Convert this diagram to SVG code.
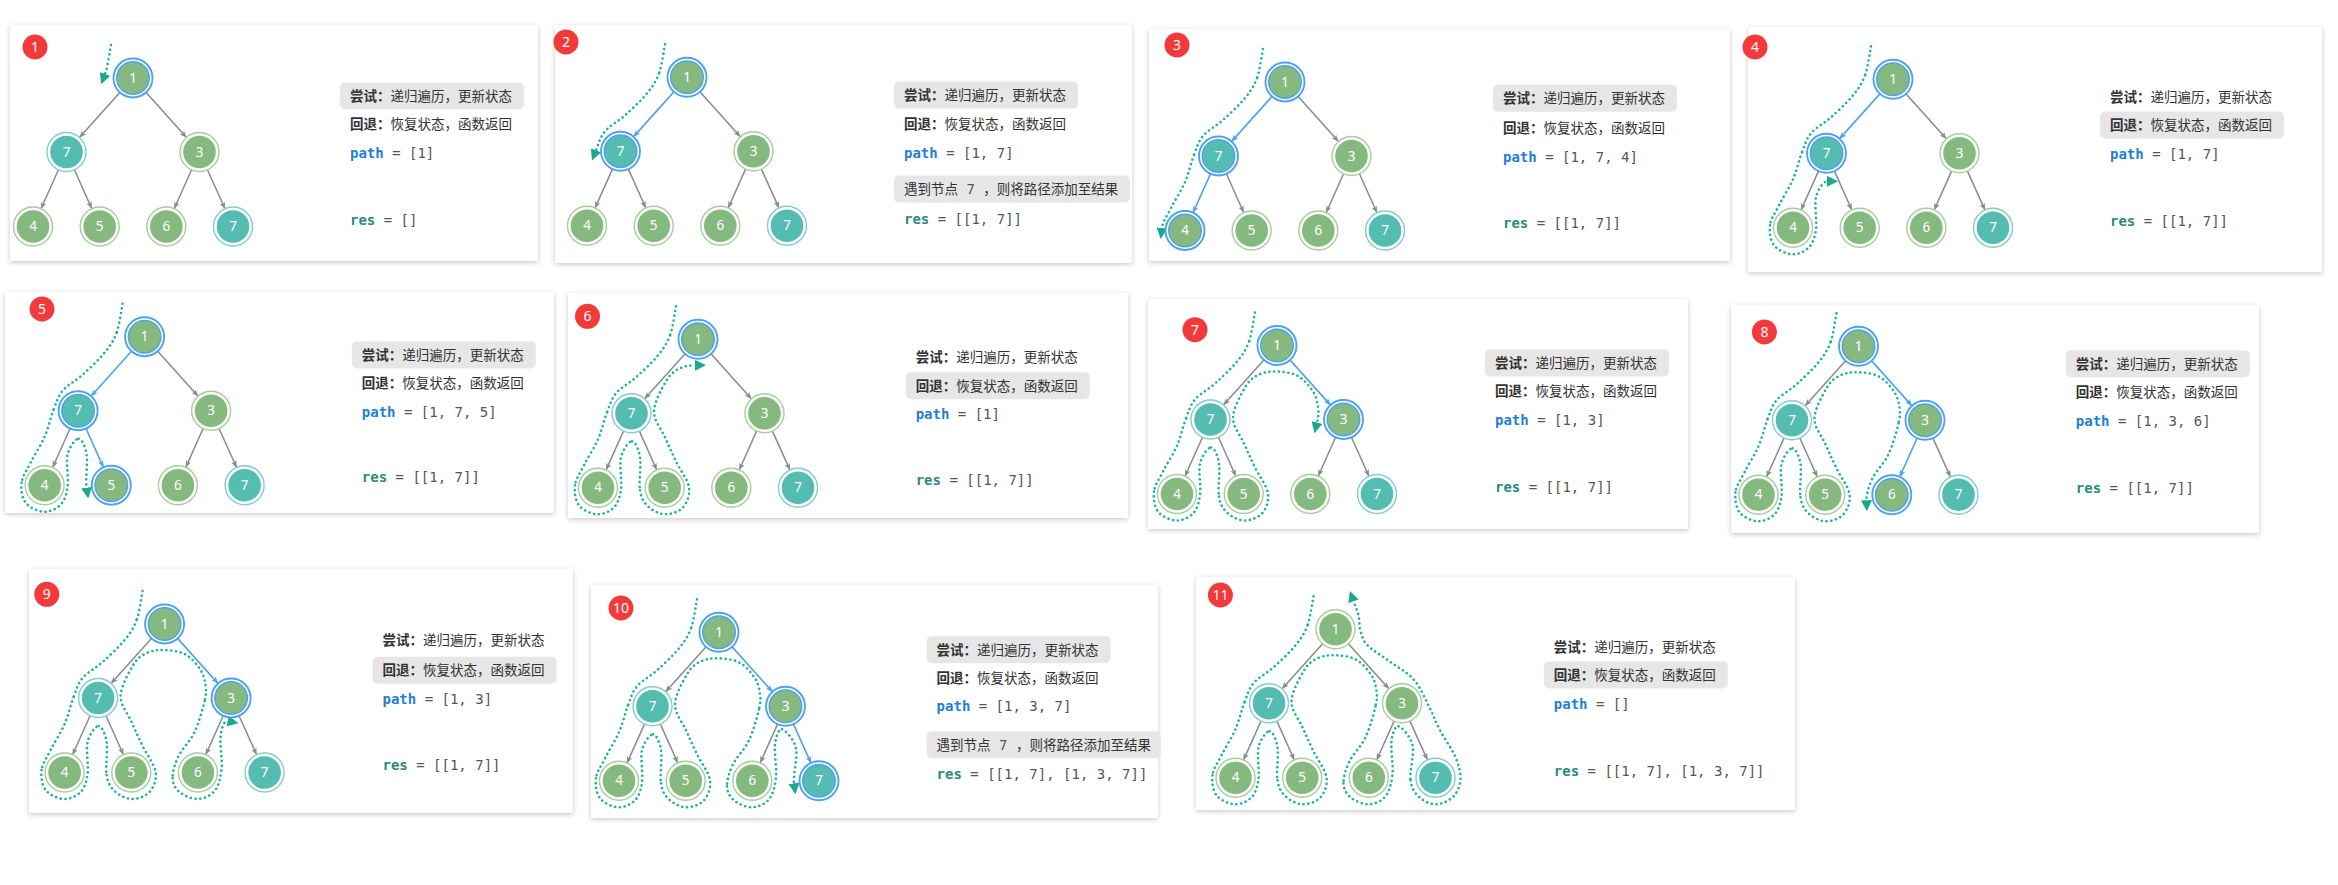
<svg xmlns="http://www.w3.org/2000/svg" xmlns:xlink="http://www.w3.org/1999/xlink" width="2338" height="885" viewBox="0 0 2338 885">
<style>
.pn{fill:#fff;filter:url(#sh)}
.bd{fill:#F23A3A}
.bt{fill:#fff;font-family:"Noto Sans","Liberation Sans",sans-serif;font-size:14px;text-anchor:middle}
.rg{fill:#fff;stroke:#A3D09A;stroke-width:1.4}
.rt{fill:#fff;stroke:#82CEC4;stroke-width:1.4}
.rb{fill:#fff;stroke:#4DA3EE;stroke-width:1.9}
.fg{fill:#86B97F}
.ft{fill:#54BCB0}
.hb{stroke:#4DA3EE;stroke-width:1.4}
.nv{fill:#fff;font-family:"Noto Sans","Liberation Sans",sans-serif;font-size:13.5px;text-anchor:middle}
.eg{stroke:#8A8A8A;stroke-width:1.5;marker-end:url(#mg)}
.ebl{stroke:#4DA3EE;stroke-width:1.6;marker-end:url(#mb)}
.tour{fill:none;stroke:#1DB39A;stroke-width:2.6;stroke-dasharray:0.1 4.7;stroke-linecap:round}
.tend{marker-end:url(#mt)}
.bx{fill:#E6E6E6}
.cn{font-family:"Noto Sans CJK SC","Noto Sans",sans-serif;font-size:13.5px;fill:#333}
.b{font-weight:bold}
.mo{font-family:"DejaVu Sans Mono","Liberation Mono",monospace;font-size:14px;fill:#555}
.kp{fill:#1D7FD6;font-weight:bold}
.kr{fill:#2A8C7B;font-weight:bold}
</style>
<defs>
<filter id="sh" x="-3%" y="-4%" width="106%" height="110%"><feDropShadow dx="0" dy="1.5" stdDeviation="2.5" flood-color="#000" flood-opacity="0.22"/></filter>
<marker id="mg" viewBox="0 0 10 10" refX="9" refY="5" markerWidth="7" markerHeight="7" markerUnits="userSpaceOnUse" orient="auto"><path d="M0,1 L10,5 L0,9 L2.5,5 z" fill="#8A8A8A"/></marker>
<marker id="mb" viewBox="0 0 10 10" refX="9" refY="5" markerWidth="7" markerHeight="7" markerUnits="userSpaceOnUse" orient="auto"><path d="M0,1 L10,5 L0,9 L2.5,5 z" fill="#4DA3EE"/></marker>
<marker id="mt" viewBox="0 0 10 10" refX="0" refY="5" markerWidth="11" markerHeight="11" markerUnits="userSpaceOnUse" orient="auto"><path d="M0,0 L10,5 L0,10 z" fill="#1AA98F"/></marker>
<line id="e1" x1="-12.7" y1="14.1" x2="-53.1" y2="59.1"/>
<line id="e2" x1="12.7" y1="14.1" x2="53.1" y2="59.1"/>
<line id="e3" x1="-74.3" y1="91.3" x2="-91.8" y2="130.3"/>
<line id="e4" x1="-58.8" y1="91.3" x2="-41.4" y2="130.2"/>
<line id="e5" x1="58.8" y1="91.3" x2="41.4" y2="130.2"/>
<line id="e6" x1="74.2" y1="91.3" x2="91.8" y2="130.3"/>
<g id="ng"><circle r="19.5" class="rg"/><circle r="16.3" class="fg"/></g>
<g id="nt"><circle r="19.5" class="rt"/><circle r="16.3" class="ft"/></g>
<g id="ngb"><circle r="19.5" class="rb"/><circle r="16.3" class="fg hb"/></g>
<g id="ntb"><circle r="19.5" class="rb"/><circle r="16.3" class="ft hb"/></g>
<path id="tA" d="M-22,-33 C-23,-28.2 -25,-12.2 -28,-4"/>
<path id="tB" d="M-28,-4 C-31,4.2 -34.3,9 -40,16 C-45.7,23 -55,31.7 -62,38 C-69,44.3 -77.2,48.2 -82,54 C-86.8,59.8 -88,65.3 -91,73"/>
<path id="tC" d="M-91,73 C-94,80.7 -96.2,91.2 -100,100 C-103.8,108.8 -110.2,118.3 -114,126 C-117.8,133.7 -122.2,139.3 -123,146"/>
<path id="tD" d="M-123,146 C-123.8,152.7 -122.7,161.2 -119,166 C-115.3,170.8 -106.8,174.7 -101,175 C-95.2,175.3 -88,172.2 -84,168 C-80,163.8 -78.2,158.3 -77,150 C-75.8,141.7 -78.8,126 -77,118 C-75.2,110 -69.2,102 -66,102"/>
<path id="tE" d="M-66,102 C-62.8,102 -59.3,109.8 -58,118 C-56.7,126.2 -59.3,142.8 -58,151"/>
<path id="tF" d="M-58,151 C-56.7,159.2 -54.2,163 -50,167 C-45.8,171 -38.8,174.8 -33,175 C-27.2,175.2 -19,172.5 -15,168 C-11,163.5 -7.8,155.7 -9,148 C-10.2,140.3 -18,130.3 -22,122 C-26,113.7 -29.3,106.3 -33,98 C-36.7,89.7 -44.2,81.3 -44,72 C-43.8,62.7 -36,49 -32,42 C-28,35 -24.8,32.7 -20,30 C-15.2,27.3 -9.7,26 -3,26"/>
<path id="tG" d="M-3,26 C3.7,26 13.5,26.7 20,30 C26.5,33.3 32.5,40.7 36,46 C39.5,51.3 40.3,56.8 41,62 C41.7,67.2 41.8,69.3 40,77"/>
<path id="tH" d="M40,77 C38.2,84.7 34.3,98.8 30,108 C25.7,117.2 17.7,124.3 14,132 C10.3,139.7 7.8,148 8,154"/>
<path id="tI" d="M8,154 C8.2,160 10.8,164.5 15,168 C19.2,171.5 27.2,175.2 33,175 C38.8,174.8 46,172 50,167 C54,162 56,154.2 57,145 C58,135.8 55,120 56,112 C57,104 59.5,96.3 63,97"/>
<path id="tJ" d="M63,97 C66.5,97.7 75,107 77,116 C79,125 73.8,142.3 75,151"/>
<path id="tK" d="M75,151 C76.2,159.7 79.7,164 84,168 C88.3,172 95.3,175.2 101,175 C106.7,174.8 114,171.2 118,167 C122,162.8 124.7,156.5 125,150 C125.3,143.5 123.5,136.3 120,128 C116.5,119.7 108.5,108.7 104,100 C99.5,91.3 97.3,84.3 93,76 C88.7,67.7 84.5,57.3 78,50 C71.5,42.7 61.7,37.7 54,32 C46.3,26.3 36.8,21 32,16 C27.2,11 26.5,7 25,2 C23.5,-3 24.2,-9 23,-14 C21.8,-19 18.8,-25.7 18,-28"/>
</defs>
<rect width="2338" height="885" fill="#fff"/>

<!-- Panel 1 -->
<g id="panel-1">
<rect class="pn" x="10" y="25" width="528" height="236"/>
<g id="p1-badge"><circle class="bd" cx="35" cy="47" r="12.5"/><text class="bt" x="35" y="52">1</text></g>
<g id="p1-tree" transform="translate(133,78)">
<g id="p1-connectors"><use href="#e1" class="eg"/><use href="#e2" class="eg"/><use href="#e3" class="eg"/><use href="#e4" class="eg"/><use href="#e5" class="eg"/><use href="#e6" class="eg"/>
<g class="tour"><use href="#tA" class="tend"/></g></g>
<g id="p1-n1"><use href="#ngb"/><text class="nv" y="4.5">1</text></g>
<g id="p1-n2" transform="translate(-66.5,74)"><use href="#nt"/><text class="nv" y="4.5">7</text></g>
<g id="p1-n3" transform="translate(66.5,74)"><use href="#ng"/><text class="nv" y="4.5">3</text></g>
<g id="p1-n4" transform="translate(-100,148.5)"><use href="#ng"/><text class="nv" y="4.5">4</text></g>
<g id="p1-n5" transform="translate(-33.3,148.5)"><use href="#ng"/><text class="nv" y="4.5">5</text></g>
<g id="p1-n6" transform="translate(33.3,148.5)"><use href="#ng"/><text class="nv" y="4.5">6</text></g>
<g id="p1-n7" transform="translate(100,148.5)"><use href="#nt"/><text class="nv" y="4.5">7</text></g>
</g>
<g id="p1-text">
<rect class="bx" x="340" y="82.5" width="184" height="27" rx="5"/>
<text class="cn" x="350" y="101"><tspan class="b">尝试：</tspan>递归遍历，更新状态</text>
<text class="cn" x="350" y="129"><tspan class="b">回退：</tspan>恢复状态，函数返回</text>
<text class="mo" x="350" y="158"><tspan class="kp">path</tspan> = [1]</text>
<text class="mo" x="350" y="225"><tspan class="kr">res</tspan> = []</text>
</g>
</g>

<!-- Panel 2 -->
<g id="panel-2">
<rect class="pn" x="555" y="25" width="577" height="238"/>
<g id="p2-badge"><circle class="bd" cx="566" cy="42" r="12.5"/><text class="bt" x="566" y="47">2</text></g>
<g id="p2-tree" transform="translate(687,77.3)">
<g id="p2-connectors"><use href="#e1" class="ebl"/><use href="#e2" class="eg"/><use href="#e3" class="eg"/><use href="#e4" class="eg"/><use href="#e5" class="eg"/><use href="#e6" class="eg"/>
<g class="tour"><use href="#tA"/><use href="#tB" class="tend"/></g></g>
<g id="p2-n1"><use href="#ngb"/><text class="nv" y="4.5">1</text></g>
<g id="p2-n2" transform="translate(-66.5,74)"><use href="#ntb"/><text class="nv" y="4.5">7</text></g>
<g id="p2-n3" transform="translate(66.5,74)"><use href="#ng"/><text class="nv" y="4.5">3</text></g>
<g id="p2-n4" transform="translate(-100,148.5)"><use href="#ng"/><text class="nv" y="4.5">4</text></g>
<g id="p2-n5" transform="translate(-33.3,148.5)"><use href="#ng"/><text class="nv" y="4.5">5</text></g>
<g id="p2-n6" transform="translate(33.3,148.5)"><use href="#ng"/><text class="nv" y="4.5">6</text></g>
<g id="p2-n7" transform="translate(100,148.5)"><use href="#nt"/><text class="nv" y="4.5">7</text></g>
</g>
<g id="p2-text">
<rect class="bx" x="894" y="81.5" width="184" height="27" rx="5"/>
<text class="cn" x="904" y="100"><tspan class="b">尝试：</tspan>递归遍历，更新状态</text>
<text class="cn" x="904" y="129"><tspan class="b">回退：</tspan>恢复状态，函数返回</text>
<text class="mo" x="904" y="157.7"><tspan class="kp">path</tspan> = [1, 7]</text>
<rect class="bx" x="894" y="175.5" width="236" height="27" rx="5"/>
<text class="cn" x="904" y="194">遇到节点<tspan class="mo"> 7 </tspan>，则将路径添加至结果</text>
<text class="mo" x="904" y="224"><tspan class="kr">res</tspan> = [[1, 7]]</text>
</g>
</g>

<!-- Panel 3 -->
<g id="panel-3">
<rect class="pn" x="1149" y="29" width="581" height="232"/>
<g id="p3-badge"><circle class="bd" cx="1177" cy="45" r="12.5"/><text class="bt" x="1177" y="50">3</text></g>
<g id="p3-tree" transform="translate(1285,82)">
<g id="p3-connectors"><use href="#e1" class="ebl"/><use href="#e2" class="eg"/><use href="#e3" class="ebl"/><use href="#e4" class="eg"/><use href="#e5" class="eg"/><use href="#e6" class="eg"/>
<g class="tour"><use href="#tA"/><use href="#tB"/><use href="#tC" class="tend"/></g></g>
<g id="p3-n1"><use href="#ngb"/><text class="nv" y="4.5">1</text></g>
<g id="p3-n2" transform="translate(-66.5,74)"><use href="#ntb"/><text class="nv" y="4.5">7</text></g>
<g id="p3-n3" transform="translate(66.5,74)"><use href="#ng"/><text class="nv" y="4.5">3</text></g>
<g id="p3-n4" transform="translate(-100,148.5)"><use href="#ngb"/><text class="nv" y="4.5">4</text></g>
<g id="p3-n5" transform="translate(-33.3,148.5)"><use href="#ng"/><text class="nv" y="4.5">5</text></g>
<g id="p3-n6" transform="translate(33.3,148.5)"><use href="#ng"/><text class="nv" y="4.5">6</text></g>
<g id="p3-n7" transform="translate(100,148.5)"><use href="#nt"/><text class="nv" y="4.5">7</text></g>
</g>
<g id="p3-text">
<rect class="bx" x="1493" y="84.8" width="184" height="27" rx="5"/>
<text class="cn" x="1503" y="103.3"><tspan class="b">尝试：</tspan>递归遍历，更新状态</text>
<text class="cn" x="1503" y="132.7"><tspan class="b">回退：</tspan>恢复状态，函数返回</text>
<text class="mo" x="1503" y="161.7"><tspan class="kp">path</tspan> = [1, 7, 4]</text>
<text class="mo" x="1503" y="228.3"><tspan class="kr">res</tspan> = [[1, 7]]</text>
</g>
</g>

<!-- Panel 4 -->
<g id="panel-4">
<rect class="pn" x="1748" y="27" width="574" height="245"/>
<g id="p4-badge"><circle class="bd" cx="1755" cy="47" r="12.5"/><text class="bt" x="1755" y="52">4</text></g>
<g id="p4-tree" transform="translate(1893,79.3)">
<g id="p4-connectors"><use href="#e1" class="ebl"/><use href="#e2" class="eg"/><use href="#e3" class="eg"/><use href="#e4" class="eg"/><use href="#e5" class="eg"/><use href="#e6" class="eg"/>
<g class="tour"><use href="#tA"/><use href="#tB"/><use href="#tC"/><use href="#tD" class="tend"/></g></g>
<g id="p4-n1"><use href="#ngb"/><text class="nv" y="4.5">1</text></g>
<g id="p4-n2" transform="translate(-66.5,74)"><use href="#ntb"/><text class="nv" y="4.5">7</text></g>
<g id="p4-n3" transform="translate(66.5,74)"><use href="#ng"/><text class="nv" y="4.5">3</text></g>
<g id="p4-n4" transform="translate(-100,148.5)"><use href="#ng"/><text class="nv" y="4.5">4</text></g>
<g id="p4-n5" transform="translate(-33.3,148.5)"><use href="#ng"/><text class="nv" y="4.5">5</text></g>
<g id="p4-n6" transform="translate(33.3,148.5)"><use href="#ng"/><text class="nv" y="4.5">6</text></g>
<g id="p4-n7" transform="translate(100,148.5)"><use href="#nt"/><text class="nv" y="4.5">7</text></g>
</g>
<g id="p4-text">
<text class="cn" x="2110" y="101.7"><tspan class="b">尝试：</tspan>递归遍历，更新状态</text>
<rect class="bx" x="2100" y="111.5" width="184" height="27" rx="5"/>
<text class="cn" x="2110" y="130"><tspan class="b">回退：</tspan>恢复状态，函数返回</text>
<text class="mo" x="2110" y="159.3"><tspan class="kp">path</tspan> = [1, 7]</text>
<text class="mo" x="2110" y="226"><tspan class="kr">res</tspan> = [[1, 7]]</text>
</g>
</g>

<!-- Panel 5 -->
<g id="panel-5">
<rect class="pn" x="5" y="292" width="549" height="221"/>
<g id="p5-badge"><circle class="bd" cx="42" cy="309" r="12.5"/><text class="bt" x="42" y="314">5</text></g>
<g id="p5-tree" transform="translate(144.6,336.7)">
<g id="p5-connectors"><use href="#e1" class="ebl"/><use href="#e2" class="eg"/><use href="#e3" class="eg"/><use href="#e4" class="ebl"/><use href="#e5" class="eg"/><use href="#e6" class="eg"/>
<g class="tour"><use href="#tA"/><use href="#tB"/><use href="#tC"/><use href="#tD"/><use href="#tE" class="tend"/></g></g>
<g id="p5-n1"><use href="#ngb"/><text class="nv" y="4.5">1</text></g>
<g id="p5-n2" transform="translate(-66.5,74)"><use href="#ntb"/><text class="nv" y="4.5">7</text></g>
<g id="p5-n3" transform="translate(66.5,74)"><use href="#ng"/><text class="nv" y="4.5">3</text></g>
<g id="p5-n4" transform="translate(-100,148.5)"><use href="#ng"/><text class="nv" y="4.5">4</text></g>
<g id="p5-n5" transform="translate(-33.3,148.5)"><use href="#ngb"/><text class="nv" y="4.5">5</text></g>
<g id="p5-n6" transform="translate(33.3,148.5)"><use href="#ng"/><text class="nv" y="4.5">6</text></g>
<g id="p5-n7" transform="translate(100,148.5)"><use href="#nt"/><text class="nv" y="4.5">7</text></g>
</g>
<g id="p5-text">
<rect class="bx" x="351.8" y="341.5" width="184" height="27" rx="5"/>
<text class="cn" x="361.8" y="360"><tspan class="b">尝试：</tspan>递归遍历，更新状态</text>
<text class="cn" x="361.8" y="388.3"><tspan class="b">回退：</tspan>恢复状态，函数返回</text>
<text class="mo" x="361.8" y="416.7"><tspan class="kp">path</tspan> = [1, 7, 5]</text>
<text class="mo" x="361.8" y="481.7"><tspan class="kr">res</tspan> = [[1, 7]]</text>
</g>
</g>

<!-- Panel 6 -->
<g id="panel-6">
<rect class="pn" x="568" y="293" width="560" height="225"/>
<g id="p6-badge"><circle class="bd" cx="587.5" cy="316.3" r="12.5"/><text class="bt" x="587.5" y="321.3">6</text></g>
<g id="p6-tree" transform="translate(698,339.3)">
<g id="p6-connectors"><use href="#e1" class="eg"/><use href="#e2" class="eg"/><use href="#e3" class="eg"/><use href="#e4" class="eg"/><use href="#e5" class="eg"/><use href="#e6" class="eg"/>
<g class="tour"><use href="#tA"/><use href="#tB"/><use href="#tC"/><use href="#tD"/><use href="#tE"/><use href="#tF" class="tend"/></g></g>
<g id="p6-n1"><use href="#ngb"/><text class="nv" y="4.5">1</text></g>
<g id="p6-n2" transform="translate(-66.5,74)"><use href="#nt"/><text class="nv" y="4.5">7</text></g>
<g id="p6-n3" transform="translate(66.5,74)"><use href="#ng"/><text class="nv" y="4.5">3</text></g>
<g id="p6-n4" transform="translate(-100,148.5)"><use href="#ng"/><text class="nv" y="4.5">4</text></g>
<g id="p6-n5" transform="translate(-33.3,148.5)"><use href="#ng"/><text class="nv" y="4.5">5</text></g>
<g id="p6-n6" transform="translate(33.3,148.5)"><use href="#ng"/><text class="nv" y="4.5">6</text></g>
<g id="p6-n7" transform="translate(100,148.5)"><use href="#nt"/><text class="nv" y="4.5">7</text></g>
</g>
<g id="p6-text">
<text class="cn" x="915.7" y="362"><tspan class="b">尝试：</tspan>递归遍历，更新状态</text>
<rect class="bx" x="905.7" y="372.2" width="184" height="27" rx="5"/>
<text class="cn" x="915.7" y="390.7"><tspan class="b">回退：</tspan>恢复状态，函数返回</text>
<text class="mo" x="915.7" y="419"><tspan class="kp">path</tspan> = [1]</text>
<text class="mo" x="915.7" y="485.3"><tspan class="kr">res</tspan> = [[1, 7]]</text>
</g>
</g>

<!-- Panel 7 -->
<g id="panel-7">
<rect class="pn" x="1148" y="299" width="540" height="230"/>
<g id="p7-badge"><circle class="bd" cx="1195" cy="329.7" r="12.5"/><text class="bt" x="1195" y="334.7">7</text></g>
<g id="p7-tree" transform="translate(1277,345.5)">
<g id="p7-connectors"><use href="#e1" class="eg"/><use href="#e2" class="ebl"/><use href="#e3" class="eg"/><use href="#e4" class="eg"/><use href="#e5" class="eg"/><use href="#e6" class="eg"/>
<g class="tour"><use href="#tA"/><use href="#tB"/><use href="#tC"/><use href="#tD"/><use href="#tE"/><use href="#tF"/><use href="#tG" class="tend"/></g></g>
<g id="p7-n1"><use href="#ngb"/><text class="nv" y="4.5">1</text></g>
<g id="p7-n2" transform="translate(-66.5,74)"><use href="#nt"/><text class="nv" y="4.5">7</text></g>
<g id="p7-n3" transform="translate(66.5,74)"><use href="#ngb"/><text class="nv" y="4.5">3</text></g>
<g id="p7-n4" transform="translate(-100,148.5)"><use href="#ng"/><text class="nv" y="4.5">4</text></g>
<g id="p7-n5" transform="translate(-33.3,148.5)"><use href="#ng"/><text class="nv" y="4.5">5</text></g>
<g id="p7-n6" transform="translate(33.3,148.5)"><use href="#ng"/><text class="nv" y="4.5">6</text></g>
<g id="p7-n7" transform="translate(100,148.5)"><use href="#nt"/><text class="nv" y="4.5">7</text></g>
</g>
<g id="p7-text">
<rect class="bx" x="1485" y="349.5" width="184" height="27" rx="5"/>
<text class="cn" x="1495" y="368"><tspan class="b">尝试：</tspan>递归遍历，更新状态</text>
<text class="cn" x="1495" y="396.3"><tspan class="b">回退：</tspan>恢复状态，函数返回</text>
<text class="mo" x="1495" y="425.3"><tspan class="kp">path</tspan> = [1, 3]</text>
<text class="mo" x="1495" y="492"><tspan class="kr">res</tspan> = [[1, 7]]</text>
</g>
</g>

<!-- Panel 8 -->
<g id="panel-8">
<rect class="pn" x="1731" y="305" width="528" height="228"/>
<g id="p8-badge"><circle class="bd" cx="1764.4" cy="332" r="12.5"/><text class="bt" x="1764.4" y="337">8</text></g>
<g id="p8-tree" transform="translate(1858.5,346.3)">
<g id="p8-connectors"><use href="#e1" class="eg"/><use href="#e2" class="ebl"/><use href="#e3" class="eg"/><use href="#e4" class="eg"/><use href="#e5" class="ebl"/><use href="#e6" class="eg"/>
<g class="tour"><use href="#tA"/><use href="#tB"/><use href="#tC"/><use href="#tD"/><use href="#tE"/><use href="#tF"/><use href="#tG"/><use href="#tH" class="tend"/></g></g>
<g id="p8-n1"><use href="#ngb"/><text class="nv" y="4.5">1</text></g>
<g id="p8-n2" transform="translate(-66.5,74)"><use href="#nt"/><text class="nv" y="4.5">7</text></g>
<g id="p8-n3" transform="translate(66.5,74)"><use href="#ngb"/><text class="nv" y="4.5">3</text></g>
<g id="p8-n4" transform="translate(-100,148.5)"><use href="#ng"/><text class="nv" y="4.5">4</text></g>
<g id="p8-n5" transform="translate(-33.3,148.5)"><use href="#ng"/><text class="nv" y="4.5">5</text></g>
<g id="p8-n6" transform="translate(33.3,148.5)"><use href="#ngb"/><text class="nv" y="4.5">6</text></g>
<g id="p8-n7" transform="translate(100,148.5)"><use href="#nt"/><text class="nv" y="4.5">7</text></g>
</g>
<g id="p8-text">
<rect class="bx" x="2065.8" y="350.2" width="184" height="27" rx="5"/>
<text class="cn" x="2075.8" y="368.7"><tspan class="b">尝试：</tspan>递归遍历，更新状态</text>
<text class="cn" x="2075.8" y="397"><tspan class="b">回退：</tspan>恢复状态，函数返回</text>
<text class="mo" x="2075.8" y="425.7"><tspan class="kp">path</tspan> = [1, 3, 6]</text>
<text class="mo" x="2075.8" y="493"><tspan class="kr">res</tspan> = [[1, 7]]</text>
</g>
</g>

<!-- Panel 9 -->
<g id="panel-9">
<rect class="pn" x="29" y="569" width="544" height="244"/>
<g id="p9-badge"><circle class="bd" cx="46.8" cy="594.3" r="12.5"/><text class="bt" x="46.8" y="599.3">9</text></g>
<g id="p9-tree" transform="translate(164.6,624)">
<g id="p9-connectors"><use href="#e1" class="eg"/><use href="#e2" class="ebl"/><use href="#e3" class="eg"/><use href="#e4" class="eg"/><use href="#e5" class="eg"/><use href="#e6" class="eg"/>
<g class="tour"><use href="#tA"/><use href="#tB"/><use href="#tC"/><use href="#tD"/><use href="#tE"/><use href="#tF"/><use href="#tG"/><use href="#tH"/><use href="#tI" class="tend"/></g></g>
<g id="p9-n1"><use href="#ngb"/><text class="nv" y="4.5">1</text></g>
<g id="p9-n2" transform="translate(-66.5,74)"><use href="#nt"/><text class="nv" y="4.5">7</text></g>
<g id="p9-n3" transform="translate(66.5,74)"><use href="#ngb"/><text class="nv" y="4.5">3</text></g>
<g id="p9-n4" transform="translate(-100,148.5)"><use href="#ng"/><text class="nv" y="4.5">4</text></g>
<g id="p9-n5" transform="translate(-33.3,148.5)"><use href="#ng"/><text class="nv" y="4.5">5</text></g>
<g id="p9-n6" transform="translate(33.3,148.5)"><use href="#ng"/><text class="nv" y="4.5">6</text></g>
<g id="p9-n7" transform="translate(100,148.5)"><use href="#nt"/><text class="nv" y="4.5">7</text></g>
</g>
<g id="p9-text">
<text class="cn" x="382.5" y="645.3"><tspan class="b">尝试：</tspan>递归遍历，更新状态</text>
<rect class="bx" x="372.5" y="656.8" width="184" height="27" rx="5"/>
<text class="cn" x="382.5" y="675.3"><tspan class="b">回退：</tspan>恢复状态，函数返回</text>
<text class="mo" x="382.5" y="703.7"><tspan class="kp">path</tspan> = [1, 3]</text>
<text class="mo" x="382.5" y="770.3"><tspan class="kr">res</tspan> = [[1, 7]]</text>
</g>
</g>

<!-- Panel 10 -->
<g id="panel-10">
<rect class="pn" x="591" y="585" width="567" height="233"/>
<g id="p10-badge"><circle class="bd" cx="621" cy="608" r="12.5"/><text class="bt" x="621" y="613">10</text></g>
<g id="p10-tree" transform="translate(719,632.3)">
<g id="p10-connectors"><use href="#e1" class="eg"/><use href="#e2" class="ebl"/><use href="#e3" class="eg"/><use href="#e4" class="eg"/><use href="#e5" class="eg"/><use href="#e6" class="ebl"/>
<g class="tour"><use href="#tA"/><use href="#tB"/><use href="#tC"/><use href="#tD"/><use href="#tE"/><use href="#tF"/><use href="#tG"/><use href="#tH"/><use href="#tI"/><use href="#tJ" class="tend"/></g></g>
<g id="p10-n1"><use href="#ngb"/><text class="nv" y="4.5">1</text></g>
<g id="p10-n2" transform="translate(-66.5,74)"><use href="#nt"/><text class="nv" y="4.5">7</text></g>
<g id="p10-n3" transform="translate(66.5,74)"><use href="#ngb"/><text class="nv" y="4.5">3</text></g>
<g id="p10-n4" transform="translate(-100,148.5)"><use href="#ng"/><text class="nv" y="4.5">4</text></g>
<g id="p10-n5" transform="translate(-33.3,148.5)"><use href="#ng"/><text class="nv" y="4.5">5</text></g>
<g id="p10-n6" transform="translate(33.3,148.5)"><use href="#ng"/><text class="nv" y="4.5">6</text></g>
<g id="p10-n7" transform="translate(100,148.5)"><use href="#ntb"/><text class="nv" y="4.5">7</text></g>
</g>
<g id="p10-text">
<rect class="bx" x="926.6" y="636.2" width="184" height="27" rx="5"/>
<text class="cn" x="936.6" y="654.7"><tspan class="b">尝试：</tspan>递归遍历，更新状态</text>
<text class="cn" x="936.6" y="683"><tspan class="b">回退：</tspan>恢复状态，函数返回</text>
<text class="mo" x="936.6" y="711.3"><tspan class="kp">path</tspan> = [1, 3, 7]</text>
<rect class="bx" x="926.6" y="731.2" width="234" height="27" rx="5"/>
<text class="cn" x="936.6" y="749.7">遇到节点<tspan class="mo"> 7 </tspan>，则将路径添加至结果</text>
<text class="mo" x="936.6" y="778.7"><tspan class="kr">res</tspan> = [[1, 7], [1, 3, 7]]</text>
</g>
</g>

<!-- Panel 11 -->
<g id="panel-11">
<rect class="pn" x="1196" y="577" width="599" height="233"/>
<g id="p11-badge"><circle class="bd" cx="1220.4" cy="595" r="12.5"/><text class="bt" x="1220.4" y="600">11</text></g>
<g id="p11-tree" transform="translate(1335.5,629.3)">
<g id="p11-connectors"><use href="#e1" class="eg"/><use href="#e2" class="eg"/><use href="#e3" class="eg"/><use href="#e4" class="eg"/><use href="#e5" class="eg"/><use href="#e6" class="eg"/>
<g class="tour"><use href="#tA"/><use href="#tB"/><use href="#tC"/><use href="#tD"/><use href="#tE"/><use href="#tF"/><use href="#tG"/><use href="#tH"/><use href="#tI"/><use href="#tJ"/><use href="#tK" class="tend"/></g></g>
<g id="p11-n1"><use href="#ng"/><text class="nv" y="4.5">1</text></g>
<g id="p11-n2" transform="translate(-66.5,74)"><use href="#nt"/><text class="nv" y="4.5">7</text></g>
<g id="p11-n3" transform="translate(66.5,74)"><use href="#ng"/><text class="nv" y="4.5">3</text></g>
<g id="p11-n4" transform="translate(-100,148.5)"><use href="#ng"/><text class="nv" y="4.5">4</text></g>
<g id="p11-n5" transform="translate(-33.3,148.5)"><use href="#ng"/><text class="nv" y="4.5">5</text></g>
<g id="p11-n6" transform="translate(33.3,148.5)"><use href="#ng"/><text class="nv" y="4.5">6</text></g>
<g id="p11-n7" transform="translate(100,148.5)"><use href="#nt"/><text class="nv" y="4.5">7</text></g>
</g>
<g id="p11-text">
<text class="cn" x="1553.8" y="651.7"><tspan class="b">尝试：</tspan>递归遍历，更新状态</text>
<rect class="bx" x="1543.8" y="661.5" width="184" height="27" rx="5"/>
<text class="cn" x="1553.8" y="680"><tspan class="b">回退：</tspan>恢复状态，函数返回</text>
<text class="mo" x="1553.8" y="709.3"><tspan class="kp">path</tspan> = []</text>
<text class="mo" x="1553.8" y="775.7"><tspan class="kr">res</tspan> = [[1, 7], [1, 3, 7]]</text>
</g>
</g>
</svg>
